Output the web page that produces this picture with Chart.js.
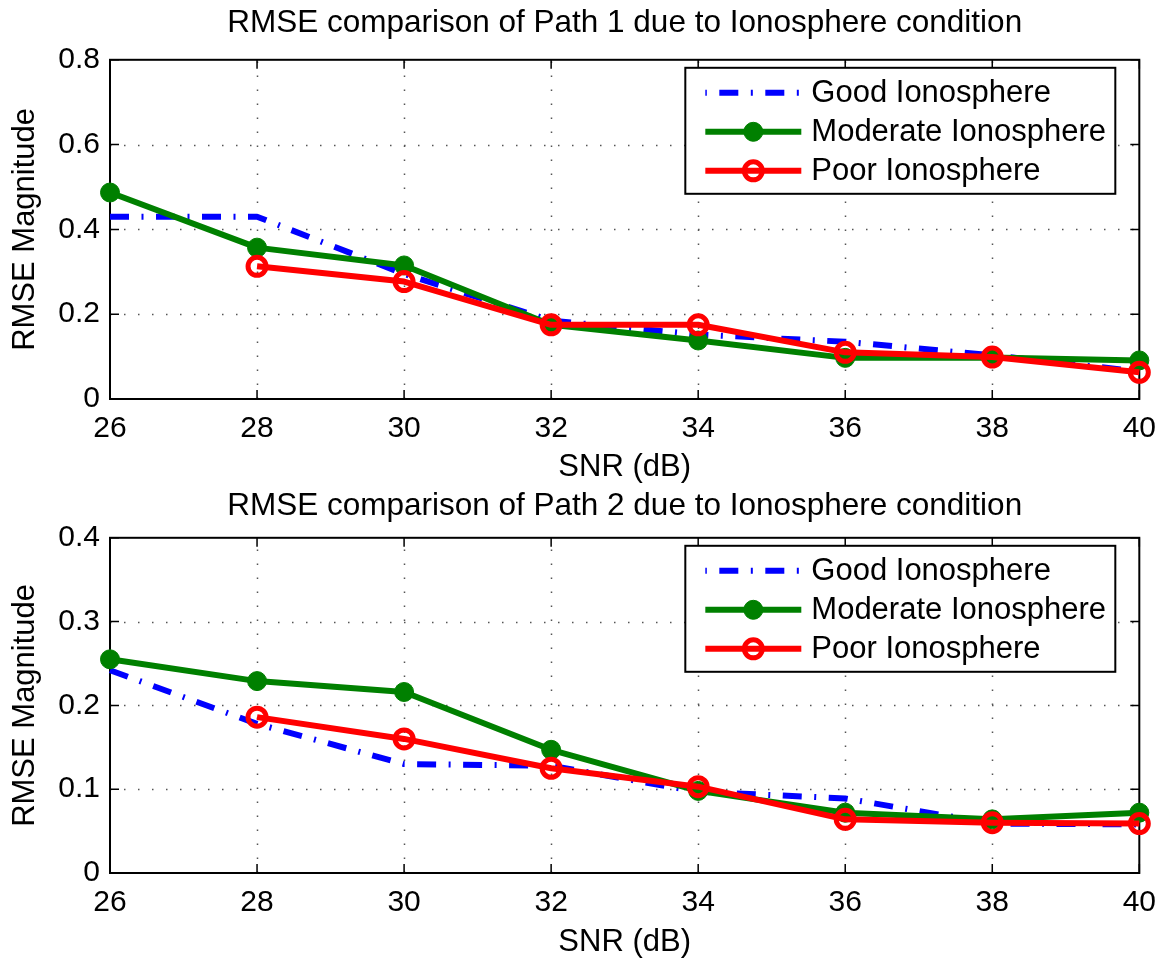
<!DOCTYPE html>
<html>
<head>
<meta charset="utf-8">
<script src="https://cdn.jsdelivr.net/npm/chart.js@4.4.1/dist/chart.umd.min.js"></script>
<style>
  body { margin: 0; background: #fff; }
  canvas { display: block; }
</style>
</head>
<body>
<canvas id="path1" width="1168" height="484"></canvas>
<canvas id="path2" width="1168" height="475"></canvas>
<script>
const snr = [26, 28, 30, 32, 34, 36, 38, 40]

// Path 1
const goodPath1 = [0.43, 0.43, 0.295, 0.185, 0.152, 0.135, 0.103, 0.065]
const moderatePath1 = [0.487, 0.357, 0.315, 0.175, 0.138, 0.097, 0.098, 0.091]
const poorPath1 = [null, 0.313, 0.277, 0.175, 0.175, 0.11, 0.099, 0.063]

// Path 2
const goodPath2 = [0.242, 0.178, 0.13, 0.128, 0.097, 0.089, 0.059, 0.058]
const moderatePath2 = [0.255, 0.229, 0.216, 0.147, 0.098, 0.072, 0.064, 0.072]
const poorPath2 = [null, 0.186, 0.16, 0.125, 0.103, 0.064, 0.06, 0.059]

const seriesNames = ["Good Ionosphere", "Moderate Ionosphere", "Poor Ionosphere"]
const yTicksPath1 = [0, 0.2, 0.4, 0.6, 0.8]
const yTicksPath2 = [0, 0.1, 0.2, 0.3, 0.4]

const FONT = "'Liberation Sans', Arial, Helvetica, sans-serif"

const toPoints = (vals) => vals.map((v, i) => ({ x: snr[i], y: v }))

// matlab-ish axes: dotted grid, box and inward ticks
const matlabAxes = {
  id: "matlabAxes",
  beforeDatasetsDraw(chart) {
    const { ctx, chartArea: a } = chart
    const xs = chart.scales.x
    const ys = chart.scales.y
    ctx.save()
    ctx.strokeStyle = "#555"
    ctx.lineWidth = 1.5
    ctx.setLineDash([1.5, 12.5])
    xs.ticks.forEach((t) => {
      if (t.value === xs.min || t.value === xs.max) return
      const px = Math.round(xs.getPixelForValue(t.value)) + 0.5
      ctx.beginPath()
      ctx.moveTo(px, a.bottom)
      ctx.lineTo(px, a.top)
      ctx.stroke()
    })
    ys.ticks.forEach((t) => {
      if (t.value === ys.min || t.value === ys.max) return
      const py = Math.round(ys.getPixelForValue(t.value)) + 0.5
      ctx.beginPath()
      ctx.moveTo(a.left, py)
      ctx.lineTo(a.right, py)
      ctx.stroke()
    })
    ctx.setLineDash([])
    ctx.strokeStyle = "#000"
    ctx.lineWidth = 1.5
    xs.ticks.forEach((t) => {
      const px = xs.getPixelForValue(t.value)
      ctx.beginPath()
      ctx.moveTo(px, a.bottom)
      ctx.lineTo(px, a.bottom - 9)
      ctx.moveTo(px, a.top)
      ctx.lineTo(px, a.top + 9)
      ctx.stroke()
    })
    ys.ticks.forEach((t) => {
      const py = ys.getPixelForValue(t.value)
      ctx.beginPath()
      ctx.moveTo(a.left, py)
      ctx.lineTo(a.left + 9, py)
      ctx.moveTo(a.right, py)
      ctx.lineTo(a.right - 9, py)
      ctx.stroke()
    })
    ctx.lineWidth = 2
    ctx.strokeRect(a.left, a.top, a.right - a.left, a.bottom - a.top)
    ctx.restore()
  },
}

// boxed legend inside the top right corner of the axes
const boxLegend = {
  id: "boxLegend",
  afterDraw(chart) {
    const { ctx, chartArea: a } = chart
    const w = 430
    const h = 126
    const left = a.right - 24 - w
    const top = a.top + 8
    ctx.save()
    ctx.fillStyle = "#fff"
    ctx.fillRect(left, top, w, h)
    ctx.strokeStyle = "#000"
    ctx.lineWidth = 2
    ctx.strokeRect(left, top, w, h)
    chart.data.datasets.forEach((ds, i) => {
      const cy = top + 25 + i * 39
      ctx.beginPath()
      ctx.strokeStyle = ds.borderColor
      ctx.lineWidth = ds.borderWidth
      ctx.lineCap = "butt"
      ctx.setLineDash(ds.borderDash || [])
      ctx.lineDashOffset = ds.borderDash ? 32 : 0
      ctx.moveTo(left + 20, cy)
      ctx.lineTo(left + 116, cy)
      ctx.stroke()
      ctx.setLineDash([])
      if (ds.pointRadius > 0) {
        ctx.beginPath()
        ctx.arc(left + 68, cy, ds.pointRadius, 0, Math.PI * 2)
        ctx.fillStyle = ds.pointBackgroundColor
        ctx.fill()
        ctx.lineWidth = ds.pointBorderWidth
        ctx.strokeStyle = ds.pointBorderColor
        ctx.stroke()
      }
      ctx.fillStyle = "#000"
      ctx.font = "31px " + FONT
      ctx.textBaseline = "middle"
      ctx.textAlign = "left"
      ctx.fillText(ds.label, left + 126, cy + 1)
    })
    ctx.restore()
  },
}

function makeChart(id, title, good, moderate, poor, yTicks, layout) {
  const ctx = document.getElementById(id).getContext("2d")
  return new Chart(ctx, {
    type: "line",
    data: {
      datasets: [
        {
          label: seriesNames[0],
          data: toPoints(good),
          borderColor: "#0000ff",
          borderWidth: 6,
          borderDash: [19, 12.5, 2, 12.5],
          borderCapStyle: "butt",
          pointRadius: 0,
          order: 3,
        },
        {
          label: seriesNames[1],
          data: toPoints(moderate),
          borderColor: "#008000",
          borderWidth: 6,
          pointRadius: 9.5,
          pointBackgroundColor: "#008000",
          pointBorderColor: "#008000",
          pointBorderWidth: 1,
          order: 2,
        },
        {
          label: seriesNames[2],
          data: toPoints(poor),
          borderColor: "#ff0000",
          borderWidth: 6,
          pointRadius: 9,
          pointBackgroundColor: "rgba(0,0,0,0)",
          pointBorderColor: "#ff0000",
          pointBorderWidth: 5,
          order: 1,
        },
      ],
    },
    options: {
      responsive: false,
      animation: false,
      devicePixelRatio: 1,
      clip: false,
      borderJoinStyle: "round",
      tension: 0,
      layout: { padding: { top: 0, right: 27, left: 0, bottom: 0 } },
      plugins: {
        legend: { display: false },
        tooltip: { enabled: false },
        title: {
          display: true,
          fullSize: false,
          text: title,
          color: "#000",
          font: { family: FONT, size: 31.5, weight: "normal", lineHeight: 1.2 },
          padding: { top: layout.titleTop, bottom: layout.titleBottom },
        },
      },
      scales: {
        x: {
          type: "linear",
          min: 26,
          max: 40,
          afterBuildTicks: (scale) => {
            scale.ticks = snr.map((v) => ({ value: v }))
          },
          afterFit: (scale) => {
            scale.height = layout.xHeight
          },
          grid: { display: false, drawTicks: false },
          border: { display: false },
          ticks: {
            color: "#000",
            padding: 12,
            maxRotation: 0,
            font: { family: FONT, size: 30 },
            callback: (v) => String(v),
          },
          title: {
            display: true,
            text: "SNR (dB)",
            color: "#000",
            font: { family: FONT, size: 31, lineHeight: 1.2 },
            padding: { top: 0, bottom: -2 },
          },
        },
        y: {
          type: "linear",
          min: yTicks[0],
          max: yTicks[yTicks.length - 1],
          afterBuildTicks: (scale) => {
            scale.ticks = yTicks.map((v) => ({ value: v }))
          },
          afterFit: (scale) => {
            scale.width = 110
          },
          grid: { display: false, drawTicks: false },
          border: { display: false },
          ticks: {
            color: "#000",
            padding: 10,
            font: { family: FONT, size: 30 },
            callback: (v) => String(v),
          },
          title: {
            display: true,
            text: "RMSE Magnitude",
            color: "#000",
            font: { family: FONT, size: 31, lineHeight: 1.2 },
            padding: { top: 7, bottom: 0 },
          },
        },
      },
    },
    plugins: [matlabAxes, boxLegend],
  })
}

makeChart("path1", "RMSE comparison of Path 1 due to Ionosphere condition",
  goodPath1, moderatePath1, poorPath1, yTicksPath1,
  { titleTop: 4, titleBottom: 18, xHeight: 85 })
makeChart("path2", "RMSE comparison of Path 2 due to Ionosphere condition",
  goodPath2, moderatePath2, poorPath2, yTicksPath2,
  { titleTop: 3, titleBottom: 13, xHeight: 86 })
</script>
</body>
</html>
